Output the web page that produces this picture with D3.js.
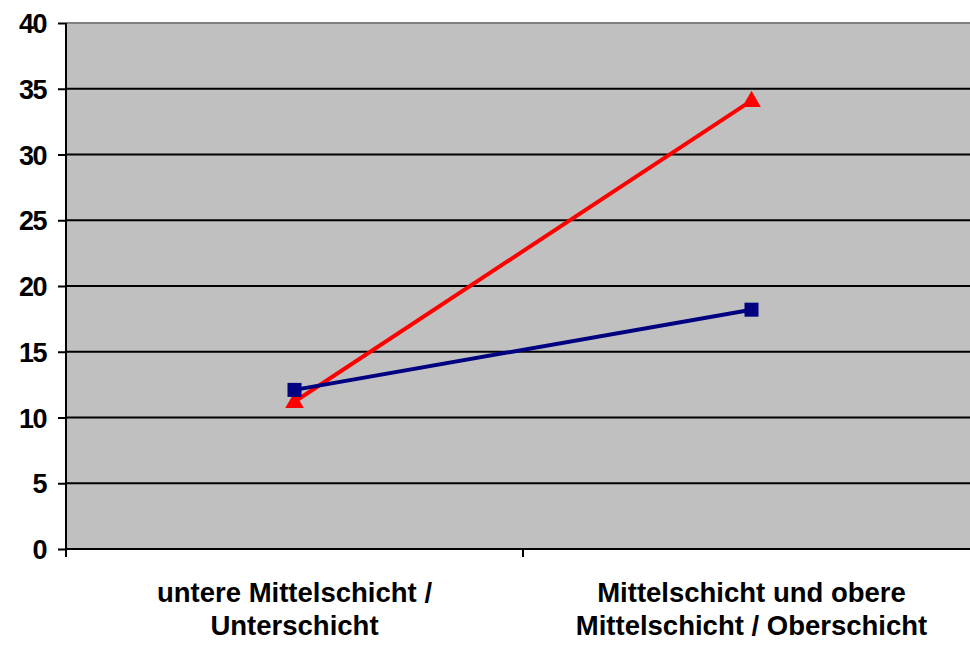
<!DOCTYPE html>
<meta charset="utf-8">
<script src="https://d3js.org/d3.v7.min.js"></script>
<style>
  body { margin: 0; background: #fff; font-family: 'Liberation Sans', Arial, sans-serif; }
  svg text { font-weight: bold; fill: #000; }
</style>
<div id="chart"></div>
<script>
  var categories = ["untere Mittelschicht / Unterschicht", "Mittelschicht und obere Mittelschicht / Oberschicht"];
  var categoryLines = [["untere Mittelschicht /", "Unterschicht"], ["Mittelschicht und obere", "Mittelschicht / Oberschicht"]];
  var redValues = [11.2, 34.1];
  var blueValues = [12.1, 18.2];
  var yTicks = [0, 5, 10, 15, 20, 25, 30, 35, 40];

  var margin = { top: 23, right: -10, bottom: 100, left: 66 },
      width = 970 - margin.left - margin.right,
      height = 649 - margin.top - margin.bottom;

  var svg = d3.select("#chart").append("svg")
      .attr("width", 970)
      .attr("height", 649)
      .append("g")
      .attr("transform", "translate(" + margin.left + "," + margin.top + ")");

  var x = d3.scaleBand().domain(categories).range([0, width]);
  var y = d3.scaleLinear().domain([0, 40]).range([height, 0]);

  // plot background
  svg.append("rect")
      .attr("width", width).attr("height", height)
      .attr("fill", "#c0c0c0");

  svg.append("line")
      .attr("x1", 0).attr("x2", width).attr("y1", 0).attr("y2", 0)
      .attr("stroke", "#808080").attr("stroke-width", 2);

  // gridlines
  svg.selectAll(".grid")
      .data(yTicks.filter(function (d) { return d > 0 && d < 40; }))
      .enter().append("line")
      .attr("x1", 0).attr("x2", width)
      .attr("y1", function (d) { return y(d); })
      .attr("y2", function (d) { return y(d); })
      .attr("stroke", "#000").attr("stroke-width", 2);

  // y axis
  var yAxis = svg.append("g")
      .call(d3.axisLeft(y).tickValues(yTicks).tickSize(8).tickPadding(12));
  yAxis.select(".domain").remove();
  yAxis.selectAll(".tick line").attr("stroke", "#000").attr("stroke-width", 2);
  yAxis.selectAll(".tick text")
      .style("font-size", "27px")
      .style("letter-spacing", "-1.5px")
      .attr("font-family", "'Liberation Sans', Arial, sans-serif")
      .attr("dy", "0.36em");
  svg.append("line")
      .attr("x1", 0).attr("x2", 0).attr("y1", 0).attr("y2", height + 8)
      .attr("stroke", "#000").attr("stroke-width", 2);

  // x axis
  svg.append("line")
      .attr("x1", 0).attr("x2", width).attr("y1", height).attr("y2", height)
      .attr("stroke", "#000").attr("stroke-width", 2);
  svg.selectAll(".xtick")
      .data(categories.slice(1))
      .enter().append("line")
      .attr("x1", function (d) { return x(d); })
      .attr("x2", function (d) { return x(d); })
      .attr("y1", height).attr("y2", height + 8)
      .attr("stroke", "#000").attr("stroke-width", 2);

  var labels = svg.selectAll(".xlabel")
      .data(categories)
      .enter().append("text")
      .attr("text-anchor", "middle")
      .style("font-size", "27.5px")
      .attr("transform", function (d) { return "translate(" + (x(d) + x.bandwidth() / 2) + "," + (height + 53) + ")"; });
  labels.selectAll("tspan")
      .data(function (d, i) { return categoryLines[i]; })
      .enter().append("tspan")
      .attr("x", 0)
      .attr("dy", function (d, i) { return i === 0 ? 0 : 33; })
      .text(function (d) { return d; });

  var cx = function (d, i) { return x(categories[i]) + x.bandwidth() / 2; };
  var line = d3.line().x(cx).y(function (d) { return y(d); });

  svg.append("path").datum(redValues)
      .attr("d", line).attr("fill", "none")
      .attr("stroke", "#ff0000").attr("stroke-width", 4);
  svg.append("path").datum(blueValues)
      .attr("d", line).attr("fill", "none")
      .attr("stroke", "#000080").attr("stroke-width", 4);

  svg.selectAll(".tri").data(redValues).enter().append("path")
      .attr("d", d3.symbol().type(d3.symbolTriangle).size(150))
      .attr("transform", function (d, i) { return "translate(" + cx(d, i) + "," + (y(d) + 1) + ")"; })
      .attr("fill", "#ff0000");
  svg.selectAll(".sq").data(blueValues).enter().append("rect")
      .attr("x", function (d, i) { return cx(d, i) - 7; })
      .attr("y", function (d) { return y(d) - 7; })
      .attr("width", 14).attr("height", 14)
      .attr("fill", "#000080");
</script>
